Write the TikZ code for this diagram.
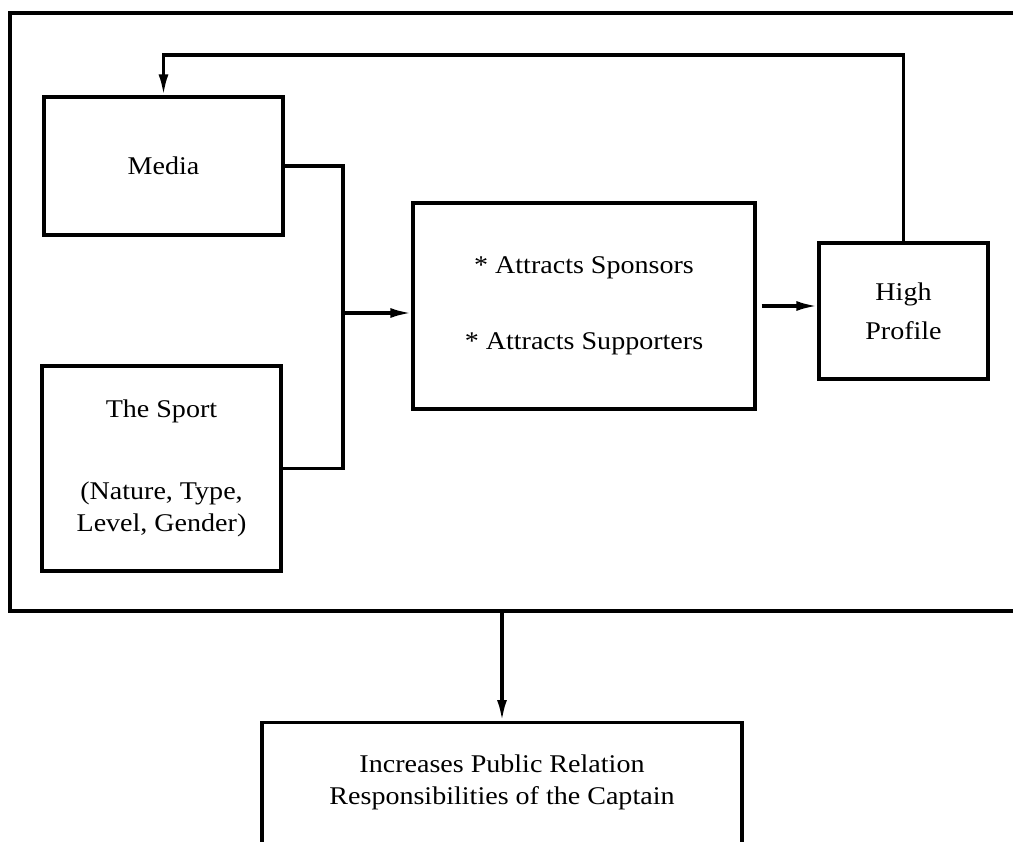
\documentclass[tikz,border=0pt]{standalone}
\usepackage{fontspec}
\setmainfont{Liberation Serif}[FakeStretch=1.1]
\usetikzlibrary{arrows.meta}

\begin{document}
\begin{tikzpicture}[x=1pt, y=-1pt, >={Latex[length=21pt,width=10pt]},
    box/.style={rectangle, draw, line width=3.2pt, align=center,
      font=\fontsize{25.5}{32}\selectfont},
    link/.style={line width=3.2pt}]
    \useasboundingbox (0,0) rectangle (1013,842);

    % Nodes
    \node (frame) [box, minimum width=1020pt, minimum height=598pt] at (520,312) {};
    \node (media) [box, minimum width=239pt, minimum height=138pt] at (163.5,166) {Media};
    \node (sport) [box, minimum width=239pt, minimum height=205pt] at (161.5,468.5)
      {The Sport\\[50pt](Nature, Type,\\Level, Gender)};
    \node (attract) [box, minimum width=342pt, minimum height=206pt] at (584,306)
      {* Attracts Sponsors\\[44pt]* Attracts Supporters};
    \node (profile) [box, minimum width=169pt, minimum height=136pt] at (903.5,311)
      {High\\[7pt]Profile};
    \node (out) [box, anchor=north, minimum width=480pt, inner ysep=31pt,
      text height=51pt, text depth=120pt] at (502,721)
      {Increases Public Relation\\Responsibilities of the Captain};
    \coordinate (hub) at (343,313);
    \coordinate (loop) at (500,55);

    % Arrows
    \draw[link] (media.east) -| (hub);
    \draw[link] (sport.east) -| (hub);
    \draw[link, ->] (hub) -- (hub -| attract.west);
    \draw[link, ->, shorten <=5pt] (attract.east) -- (attract.east -| profile.west);
    \draw[link, ->] (profile.north) |- (loop) -| (media.north);
    \draw[link, ->] (frame.south -| out.north) -- (out.north);
\end{tikzpicture}
\end{document}
